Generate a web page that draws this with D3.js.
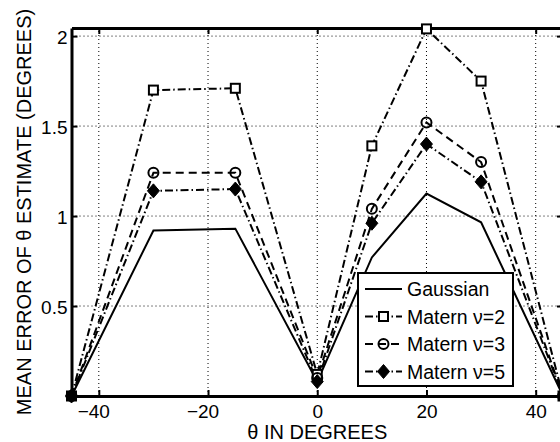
<!DOCTYPE html>
<html>
<head>
<meta charset="utf-8">
<script src="https://cdn.jsdelivr.net/npm/d3@7"></script>
<style>
  html, body { margin: 0; padding: 0; background: #fff; }
  svg { display: block; overflow: hidden; }
  text { font-family: "Liberation Sans", Arial, Helvetica, sans-serif; fill: #000; }
</style>
</head>
<body>
<svg id="chart" width="560" height="442"></svg>
<script>
// angles (degrees) and mean error for each covariance model
const angles = [-45, -30, -15, 0, 10, 20, 30, 45];
const gaussian = [0, 0.92, 0.93, 0.08, 0.77, 1.125, 0.965, 0];
const matern2 = [0, 1.70, 1.71, 0.12, 1.39, 2.04, 1.75, 0];
const matern3 = [0, 1.24, 1.24, 0.10, 1.04, 1.52, 1.30, 0];
const matern5 = [0, 1.14, 1.15, 0.08, 0.96, 1.40, 1.19, 0];

const xTicks = [-40, -20, 0, 20, 40];
const yTicks = [0.5, 1, 1.5, 2];

const seriesList = [
    { name: 'Gaussian', values: gaussian, dash: null, marker: 'none' },
    { name: 'Matern \u03bd=2', values: matern2, dash: '8,3,1.5,3', marker: 'square' },
    { name: 'Matern \u03bd=3', values: matern3, dash: '8,5', marker: 'circle' },
    { name: 'Matern \u03bd=5', values: matern5, dash: '8,3,1.5,3', marker: 'diamond' }
];

const svg = d3.select('#chart');
const margin = { top: 28, right: -3, bottom: 46, left: 71.5 };
const width = 560 - margin.left - margin.right;
const height = 442 - margin.top - margin.bottom;

const x = d3.scaleLinear().domain([-45, 45]).range([margin.left, margin.left + width]);
const y = d3.scaleLinear().domain([0, 2.045]).range([margin.top + height, margin.top]);

const fmt = d => (d < 0 ? '\u2212' + Math.abs(d) : String(d));

// dotted grid
const grid = svg.append('g').attr('class', 'grid')
    .attr('stroke', '#000').attr('stroke-width', 1).attr('stroke-dasharray', '1,3');
grid.selectAll('.vg').data(xTicks).enter().append('line')
    .attr('x1', d => x(d)).attr('x2', d => x(d))
    .attr('y1', y.range()[0]).attr('y2', y.range()[1]);
grid.selectAll('.hg').data(yTicks).enter().append('line')
    .attr('y1', d => y(d)).attr('y2', d => y(d))
    .attr('x1', x.range()[0]).attr('x2', x.range()[1]);

// axes with inward ticks
const tickLen = 6;
const bottomAxis = svg.append('g')
    .attr('transform', `translate(0,${y(0)})`)
    .call(d3.axisBottom(x).tickValues(xTicks).tickFormat(fmt).tickSizeInner(-tickLen).tickSizeOuter(0).tickPadding(8.5));
const topAxis = svg.append('g')
    .attr('transform', `translate(0,${y.range()[1]})`)
    .call(d3.axisTop(x).tickValues(xTicks).tickFormat('').tickSizeInner(-tickLen).tickSizeOuter(0));
const leftAxis = svg.append('g')
    .attr('transform', `translate(${x(-45)},0)`)
    .call(d3.axisLeft(y).tickValues(yTicks).tickFormat(d3.format('')).tickSizeInner(-tickLen).tickSizeOuter(0).tickPadding(4));
const rightAxis = svg.append('g')
    .attr('transform', `translate(${x(45)},0)`)
    .call(d3.axisRight(y).tickValues(yTicks).tickFormat('').tickSizeInner(-tickLen).tickSizeOuter(0));

[bottomAxis, topAxis, leftAxis, rightAxis].forEach(a => {
    a.select('.domain').attr('stroke-width', 3).attr('stroke', '#000');
    a.selectAll('.tick line').attr('stroke-width', 2).attr('stroke', '#000');
    a.selectAll('.tick text').attr('font-size', 19).attr('fill', '#000')
        .attr('font-family', '"Liberation Sans", Arial, sans-serif');
});
leftAxis.selectAll('.tick text').attr('dy', '0.38em');
// center the digits on the tick, let the minus sign hang to the left
bottomAxis.selectAll('.tick text').attr('dx', d => (d < 0 ? -5.5 : 0));

// lines
const line = d3.line().x(d => x(d[0])).y(d => y(d[1]));
seriesList.forEach(s => {
    const pts = angles.map((a, i) => [a, s.values[i]]);
    svg.append('path')
        .datum(pts)
        .attr('d', line)
        .attr('fill', 'none')
        .attr('stroke', '#000')
        .attr('stroke-width', 2)
        .attr('stroke-dasharray', s.dash);
});

function drawMarker(g, type, cx, cy) {
    if (type === 'square') {
        g.append('rect').attr('x', cx - 4.5).attr('y', cy - 4.5).attr('width', 9).attr('height', 9)
            .attr('fill', '#fff').attr('stroke', '#000').attr('stroke-width', 2);
    } else if (type === 'circle') {
        g.append('circle').attr('cx', cx).attr('cy', cy).attr('r', 5)
            .attr('fill', 'none').attr('stroke', '#000').attr('stroke-width', 2);
    } else if (type === 'diamond') {
        g.append('path')
            .attr('d', `M${cx},${cy - 7}L${cx + 6},${cy}L${cx},${cy + 7}L${cx - 6},${cy}Z`)
            .attr('fill', '#000').attr('stroke', '#000').attr('stroke-width', 1);
    }
}

seriesList.forEach(s => {
    const g = svg.append('g');
    angles.forEach((a, i) => drawMarker(g, s.marker, x(a), y(s.values[i])));
});

// legend
const legend = svg.append('g').attr('transform', 'translate(358,273)');
legend.append('rect').attr('width', 155).attr('height', 113)
    .attr('fill', '#fff').attr('stroke', '#000').attr('stroke-width', 2);
seriesList.forEach((s, i) => {
    const ly = 16 + i * 27.5;
    legend.append('line')
        .attr('x1', 7).attr('x2', 44).attr('y1', ly).attr('y2', ly)
        .attr('stroke', '#000').attr('stroke-width', 2)
        .attr('stroke-dasharray', s.dash);
    drawMarker(legend, s.marker, 25.5, ly);
    legend.append('text')
        .attr('x', 49).attr('y', ly).attr('dy', '0.36em')
        .attr('font-size', 19.5)
        .text(s.name);
});

// axis titles
svg.append('text')
    .attr('x', x(0)).attr('y', 439)
    .attr('text-anchor', 'middle')
    .attr('font-size', 20)
    .text('\u03b8 IN DEGREES');
svg.append('text')
    .attr('transform', 'translate(31,212) rotate(-90)')
    .attr('text-anchor', 'middle')
    .attr('font-size', 20)
    .text('MEAN ERROR OF \u03b8 ESTIMATE (DEGREES)');
</script>
</body>
</html>
